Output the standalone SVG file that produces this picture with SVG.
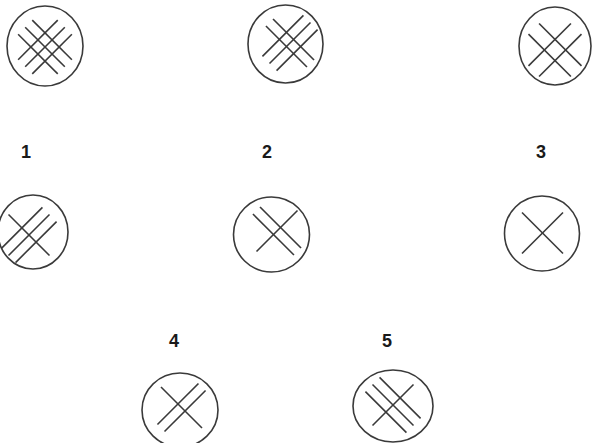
<svg xmlns="http://www.w3.org/2000/svg" width="592" height="443" viewBox="0 0 592 443">
<style>
.ring{fill:none;stroke:#3a3a3a;stroke-width:1.6}
.h line{stroke:#3a3a3a;stroke-width:1.6;stroke-linecap:butt}
.lbl{font-family:"Liberation Sans",Arial,sans-serif;font-weight:bold;font-size:18px;fill:#1a1a1a;text-anchor:middle}
</style>
<rect width="592" height="443" fill="#ffffff"/>
<g id="node-top-1">
<ellipse class="ring" cx="45" cy="46" rx="38" ry="40"/>
<g class="h" transform="translate(45,47) rotate(-45)">
<line x1="-28" y1="-10" x2="28" y2="-10"/><line x1="-28" y1="0" x2="28" y2="0"/><line x1="-28" y1="10" x2="28" y2="10"/>
<line x1="-10" y1="-28" x2="-10" y2="28"/><line x1="0" y1="-28" x2="0" y2="28"/><line x1="10" y1="-28" x2="10" y2="28"/>
</g>
</g>
<g id="node-top-2">
<ellipse class="ring" cx="285.5" cy="44" rx="37.5" ry="39"/>
<g class="h" transform="translate(290,43) rotate(-45)">
<line x1="-29" y1="-10" x2="29" y2="-10"/><line x1="-29" y1="0" x2="29" y2="0"/><line x1="-29" y1="10" x2="29" y2="10"/>
<line x1="-5" y1="-29" x2="-5" y2="29"/><line x1="5" y1="-29" x2="5" y2="29"/>
</g>
</g>
<g id="node-top-3">
<ellipse class="ring" cx="555" cy="46" rx="36" ry="39"/>
<g class="h" transform="translate(555,50) rotate(-45)">
<line x1="-30" y1="-7.5" x2="30" y2="-7.5"/><line x1="-30" y1="7.5" x2="30" y2="7.5"/>
<line x1="-7.5" y1="-30" x2="-7.5" y2="30"/><line x1="7.5" y1="-30" x2="7.5" y2="30"/>
</g>
</g>
<g id="node-1">
<text class="lbl" x="26" y="158">1</text>
<ellipse class="ring" cx="33" cy="232" rx="35" ry="37"/>
<g class="h" transform="translate(29,235) rotate(-45)">
<line x1="-29" y1="-10" x2="29" y2="-10"/><line x1="-29" y1="0" x2="29" y2="0"/><line x1="-29" y1="10" x2="29" y2="10"/>
<line x1="0" y1="-29" x2="0" y2="29"/>
</g>
</g>
<g id="node-2">
<text class="lbl" x="267" y="158">2</text>
<ellipse class="ring" cx="271.5" cy="234.5" rx="38" ry="37.5"/>
<g class="h" transform="translate(277,231) rotate(-45)">
<line x1="-29" y1="0" x2="29" y2="0"/>
<line x1="-5" y1="-29" x2="-5" y2="29"/><line x1="5" y1="-29" x2="5" y2="29"/>
</g>
</g>
<g id="node-3">
<text class="lbl" x="541" y="158">3</text>
<ellipse class="ring" cx="542" cy="233.5" rx="37.5" ry="37.5"/>
<g class="h" transform="translate(542.5,233) rotate(-45)">
<line x1="-29" y1="0" x2="29" y2="0"/>
<line x1="0" y1="-29" x2="0" y2="29"/>
</g>
</g>
<g id="node-4">
<text class="lbl" x="174" y="347">4</text>
<ellipse class="ring" cx="180" cy="410" rx="38" ry="37"/>
<g class="h" transform="translate(181.5,407.5) rotate(-45)">
<line x1="-29" y1="-5" x2="29" y2="-5"/><line x1="-29" y1="5" x2="29" y2="5"/>
<line x1="0" y1="-29" x2="0" y2="29"/>
</g>
</g>
<g id="node-5">
<text class="lbl" x="387" y="347">5</text>
<ellipse class="ring" cx="393" cy="406" rx="40" ry="36"/>
<g class="h" transform="translate(393,405) rotate(-45)">
<line x1="-29" y1="0" x2="29" y2="0"/>
<line x1="-10" y1="-29" x2="-10" y2="29"/><line x1="0" y1="-29" x2="0" y2="29"/><line x1="10" y1="-29" x2="10" y2="29"/>
</g>
</g>
<g id="connectors"/>
</svg>
